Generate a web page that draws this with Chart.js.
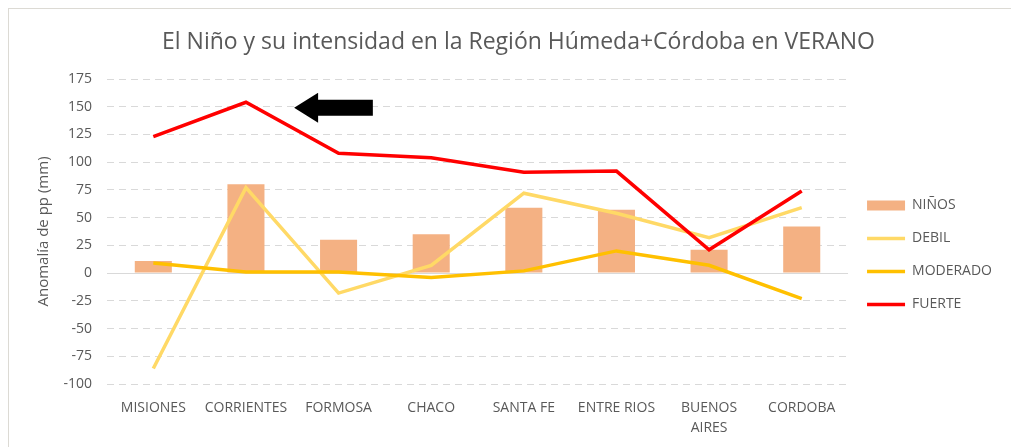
<!DOCTYPE html>
<html>
<head>
<meta charset="utf-8">
<script src="https://cdn.jsdelivr.net/npm/chart.js@4.4.1/dist/chart.umd.min.js"></script>
<style>
  html, body { margin: 0; padding: 0; background: #fff; }
  .frame {
    position: absolute; left: 8px; top: 8px; width: 1010px; height: 445px;
    border-left: 1px solid #DCDAD4; border-top: 1px solid #DCDAD4;
  }
  .wrap { position: absolute; left: 0; top: 0; width: 1011px; height: 447px; }
</style>
</head>
<body>
<div class="frame"></div>
<div class="wrap"><canvas id="chart"></canvas></div>
<script>
/* ---- Data ---- */
const provincias = ["MISIONES", "CORRIENTES", "FORMOSA", "CHACO", "SANTA FE", "ENTRE RIOS", ["BUENOS", "AIRES"], "CORDOBA"];
const ninos    = [11, 80, 30, 35, 59, 57, 21, 42];
const debil    = [-86, 77, -18, 7, 72, 54, 32, 59];
const moderado = [9, 1, 1, -4, 2, 20, 7, -23];
const fuerte   = [123, 154, 108, 104, 91, 92, 21, 74];
const yTicks = { min: -100, max: 175, step: 25 };

/* ---- Colors ---- */
const palette = {
  bar:      "#F4B183",
  debil:    "#FFD966",
  moderado: "#FFC000",
  fuerte:   "#FF0000",
  text:     "#595959",
  grid:     "#D9D9D9"
};

const FONT = "'Open Sans', 'DejaVu Sans', sans-serif";

/* black arrow pointing at CORRIENTES peak, anchored to the scales */
const arrowPlugin = {
  id: "arrow",
  afterDatasetsDraw(chart) {
    const { ctx, scales: { x, y } } = chart;
    const tipX = x.getPixelForValue(1.52);
    const tailX = x.getPixelForValue(2.37);
    const midY = y.getPixelForValue(149);
    const headLen = 24, headHalf = 15, shaftHalf = 8;
    ctx.save();
    ctx.fillStyle = "#000";
    ctx.beginPath();
    ctx.moveTo(tipX, midY);
    ctx.lineTo(tipX + headLen, midY - headHalf);
    ctx.lineTo(tipX + headLen, midY - shaftHalf);
    ctx.lineTo(tailX, midY - shaftHalf);
    ctx.lineTo(tailX, midY + shaftHalf);
    ctx.lineTo(tipX + headLen, midY + shaftHalf);
    ctx.lineTo(tipX + headLen, midY + headHalf);
    ctx.closePath();
    ctx.fill();
    ctx.restore();
  }
};

const lineSet = (label, data, color, order) => ({
  type: "line",
  label,
  data,
  borderColor: color,
  backgroundColor: color,
  borderWidth: 3.5,
  pointRadius: 0,
  pointStyle: "line",
  tension: 0,
  order
});

new Chart(document.getElementById("chart"), {
  data: {
    labels: provincias,
    datasets: [
      {
        type: "bar",
        label: "NIÑOS",
        data: ninos,
        backgroundColor: palette.bar,
        borderWidth: 0,
        pointStyle: "rect",
        categoryPercentage: 1,
        barPercentage: 0.4,
        order: 3
      },
      lineSet("DEBIL", debil, palette.debil, 2),
      lineSet("MODERADO", moderado, palette.moderado, 1),
      lineSet("FUERTE", fuerte, palette.fuerte, 0)
    ]
  },
  plugins: [arrowPlugin],
  options: {
    responsive: true,
    maintainAspectRatio: false,
    animation: false,
    layout: { padding: { left: 35, right: 9, top: 0, bottom: 0 } },
    plugins: {
      title: {
        display: true,
        text: "El Niño y su intensidad en la Región Húmeda+Córdoba en VERANO",
        color: palette.text,
        font: { family: FONT, size: 23, weight: "normal" },
        padding: { top: 29, bottom: 22.4 }
      },
      legend: {
        position: "right",
        align: "start",
        title: { display: true, text: "", padding: { top: 165, bottom: 0 } },
        labels: {
          color: palette.text,
          font: { family: FONT, size: 14 },
          usePointStyle: true,
          pointStyleWidth: 38,
          boxHeight: 10,
          padding: 19,
          sort: (a, b) => a.datasetIndex - b.datasetIndex
        }
      },
      tooltip: { enabled: false }
    },
    scales: {
      x: {
        grid: { display: false },
        border: { display: false },
        afterFit: (s) => { s.height = 63; },
        ticks: {
          color: palette.text,
          font: { family: FONT, size: 14, lineHeight: 1.45 },
          maxRotation: 0,
          autoSkip: false,
          padding: 6
        }
      },
      y: {
        min: yTicks.min,
        max: yTicks.max,
        afterFit: (s) => { s.width = 72; },
        ticks: {
          stepSize: yTicks.step,
          color: palette.text,
          font: { family: FONT, size: 14 },
          padding: 15
        },
        grid: {
          color: palette.grid,
          lineWidth: 1,
          drawTicks: false
        },
        border: {
          display: false,
          dash: (c) => (c.tick && c.tick.value === 0 ? [] : [7, 5])
        },
        title: {
          display: true,
          text: "Anomalía de pp (mm)",
          color: palette.text,
          font: { family: FONT, size: 15 },
          padding: { top: 0, bottom: 8 }
        }
      }
    }
  }
});
</script>
</body>
</html>
